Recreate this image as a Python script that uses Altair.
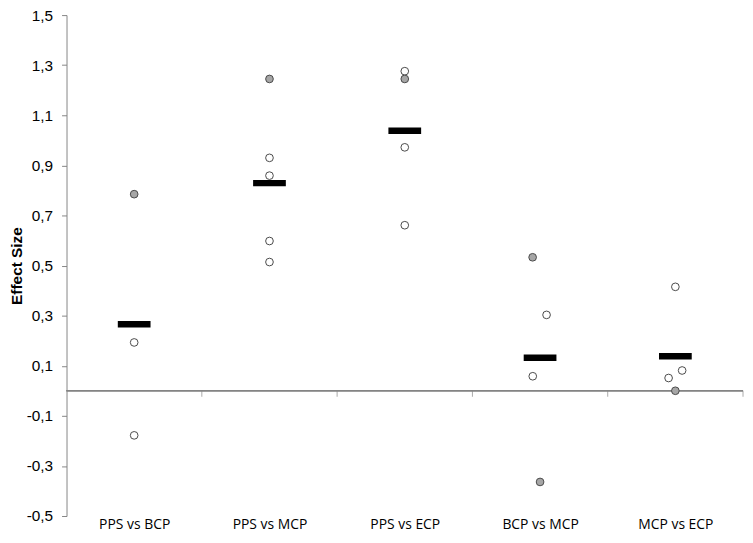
import altair as alt
import pandas as pd

# ---- data ----
categories = ["PPS vs BCP", "PPS vs MCP", "PPS vs ECP", "BCP vs MCP", "MCP vs ECP"]

point_category = [0, 0, 0,
                  1, 1, 1, 1, 1,
                  2, 2, 2, 2,
                  3, 3, 3, 3,
                  4, 4, 4, 4]
point_value = [0.785, 0.193, -0.178,
               1.245, 0.930, 0.859, 0.598, 0.514,
               1.276, 1.245, 0.972, 0.661,
               0.533, 0.303, 0.058, -0.364,
               0.415, 0.081, 0.051, 0.000]
point_group = ["grey", "white", "white",
               "grey", "white", "white", "white", "white",
               "white", "grey", "white", "white",
               "grey", "white", "white", "grey",
               "white", "white", "white", "grey"]
point_jitter = [0, 0, 0,
                0, 0, 0, 0, 0,
                0, 0, 0, 0,
                -0.055, 0.048, -0.054, 0,
                0, 0.05, -0.05, 0]

mean_value = [0.266, 0.829, 1.038, 0.132, 0.138]

y_ticks = [-0.5, -0.3, -0.1, 0.1, 0.3, 0.5, 0.7, 0.9, 1.1, 1.3, 1.5]

# ---- tables ----
pts = pd.DataFrame({
    "cat": point_category,
    "value": point_value,
    "group": point_group,
    "jitter": point_jitter,
})
pts["pos"] = pts["cat"] + 0.5 + pts["jitter"]
pts["rank"] = (pts["group"] == "grey").astype(int)
pts = pts.sort_values("rank", kind="stable")

means = pd.DataFrame({"cat": list(range(len(categories))), "value": mean_value})
means["pos"] = means["cat"] + 0.5

dividers = pd.DataFrame({"pos": list(range(1, len(categories) + 1))})

W, H = 682, 505
AXIS_GREY = "#868686"

x_scale = alt.Scale(domain=[0, len(categories)], nice=False, zero=False)
y_scale = alt.Scale(domain=[-0.5, 1.5], nice=False, zero=False)

cat_array = "[" + ",".join("'" + c + "'" for c in categories) + "]"

x_axis = alt.Axis(
    values=[i + 0.5 for i in range(len(categories))],
    labelExpr=cat_array + "[floor(datum.value)]",
    domain=False, ticks=False, grid=False,
    labelFont="Open Sans", labelFontSize=14, labelColor="#000000",
    labelPadding=2, title=None,
)
y_axis = alt.Axis(
    values=y_ticks,
    labelExpr="(datum.value < 0 ? '-' : '') + replace(format(abs(datum.value), '.1f'), '.', ',')",
    grid=False, tickSize=5, tickColor=AXIS_GREY, domainColor=AXIS_GREY,
    labelFont="Liberation Sans", labelFontSize=15.5, labelColor="#000000",
    labelPadding=9,
    title="Effect Size", titleFont="Liberation Sans", titleFontSize=15.5,
    titleFontWeight="bold", titleColor="#000000",
    titleAngle=270, titleAlign="center", titleBaseline="middle",
    titleX=-50, titleY=H / 2,
)

zero_line = alt.Chart(means).mark_rule(color=AXIS_GREY, strokeWidth=1).encode(
    x=alt.datum(0, scale=x_scale, axis=x_axis),
    x2=alt.datum(len(categories)),
    y=alt.datum(0, scale=y_scale, axis=y_axis),
)

div_ticks = alt.Chart(dividers).mark_tick(
    orient="vertical", size=6, thickness=1, color=AXIS_GREY, yOffset=3
).encode(
    x=alt.X("pos:Q", scale=x_scale, axis=x_axis),
    y=alt.datum(0),
)

points = alt.Chart(pts).mark_point(
    shape="circle", filled=True, size=60, stroke="#4a4a4a", strokeWidth=1, opacity=1
).encode(
    x=alt.X("pos:Q", scale=x_scale, axis=x_axis),
    y=alt.Y("value:Q", scale=y_scale, axis=y_axis),
    fill=alt.Fill("group:N", scale=alt.Scale(domain=["white", "grey"],
                                             range=["#ffffff", "#a6a6a6"]), legend=None),
)

bars = alt.Chart(means).mark_tick(
    orient="horizontal", size=33, thickness=6.5, color="#000000", opacity=1
).encode(
    x=alt.X("pos:Q", scale=x_scale, axis=x_axis),
    y=alt.Y("value:Q", scale=y_scale, axis=y_axis),
)

chart = alt.layer(zero_line, div_ticks, points, bars).properties(
    width=W, height=H,
    autosize=alt.AutoSizeParams(type="none"),
    padding={"left": 59, "top": 5, "right": 2, "bottom": 17},
    background="#ffffff",
).configure_view(stroke=None)

chart.save("out.html", embed_options={"renderer": "svg", "actions": False})
